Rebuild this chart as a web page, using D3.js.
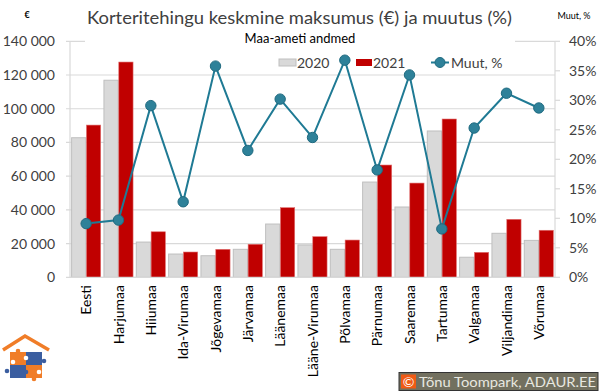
<!DOCTYPE html>
<html><head><meta charset="utf-8">
<script src="https://cdn.jsdelivr.net/npm/d3@7"></script>
<style>body{margin:0;background:#fff}svg{display:block}text{font-family:Lato,"Open Sans",sans-serif}</style>
</head><body><svg id="c" width="600" height="392"></svg>
<script>
const categories = ["Eesti","Harjumaa","Hiiumaa","Ida-Virumaa","Jõgevamaa","Järvamaa","Läänemaa","Lääne-Virumaa","Põlvamaa","Pärnumaa","Saaremaa","Tartumaa","Valgamaa","Viljandimaa","Võrumaa"];
const values2020 = [82800,116900,20900,13800,12800,16600,31600,19200,16600,56500,41700,86800,11900,26100,21900];
const values2021 = [90300,127700,27000,15000,16600,19600,41300,24100,22100,66600,55900,93900,14800,34400,27900];
const muut = [9.1,9.7,29.1,12.8,35.8,21.5,30.2,23.7,36.8,18.2,34.3,8.2,25.3,31.2,28.7];
const leftTicks = [0,20000,40000,60000,80000,100000,120000,140000];
const rightTicks = [0,5,10,15,20,25,30,35,40];
const seriesNames = ["2020","2021","Muut, %"];

const svg = d3.select("#c");
const L=70, R=555, T=41.3, B=277.3;
const x = d3.scaleBand().domain(categories).range([L,R]).paddingInner(0.1).paddingOuter(0.05);
const xs = d3.scaleBand().domain([0,1]).range([0,x.bandwidth()]).paddingInner(0.04);
const yL = d3.scaleLinear().domain([0,140000]).range([B,T]);
const yR = d3.scaleLinear().domain([0,40]).range([B,T]);
const fmt = d => d3.format(",")(d).replace(/,/g," ");

// gridlines
svg.append("g").selectAll("line").data(leftTicks).join("line")
  .attr("x1",L-4).attr("x2",R).attr("y1",d=>yL(d)).attr("y2",d=>yL(d))
  .attr("stroke","#d9d9d9").attr("stroke-width",1.2);
// left axis labels
svg.append("g").selectAll("text").data(leftTicks).join("text")
  .attr("x",55).attr("y",d=>yL(d)).attr("dy","0.36em").attr("text-anchor","end")
  .attr("font-size",14).attr("fill","#404040").text(fmt);
// right axis
svg.append("line").attr("x1",R).attr("x2",R).attr("y1",T).attr("y2",B).attr("stroke","#d9d9d9").attr("stroke-width",1.2);
svg.append("g").selectAll("line").data(rightTicks).join("line")
  .attr("x1",R).attr("x2",R+5).attr("y1",d=>yR(d)).attr("y2",d=>yR(d)).attr("stroke","#d9d9d9").attr("stroke-width",1.2);
svg.append("g").selectAll("text").data(rightTicks).join("text")
  .attr("x",569).attr("y",d=>yR(d)).attr("dy","0.36em")
  .attr("font-size",14).attr("fill","#404040").text(d=>d+"%");
svg.append("line").attr("x1",L).attr("x2",L).attr("y1",T).attr("y2",B).attr("stroke","#d9d9d9").attr("stroke-width",1.2);

// bars
const bars = svg.append("g");
bars.selectAll(".b20").data(values2020).join("rect")
  .attr("x",(d,i)=>x(categories[i])+xs(0)).attr("width",xs.bandwidth())
  .attr("y",d=>yL(d)).attr("height",d=>B-yL(d))
  .attr("fill","#d9d9d9").attr("stroke","#bfbfbf").attr("stroke-width",1);
bars.selectAll(".b21").data(values2021).join("rect")
  .attr("x",(d,i)=>x(categories[i])+xs(1)).attr("width",xs.bandwidth())
  .attr("y",d=>yL(d)).attr("height",d=>B-yL(d))
  .attr("fill","#c00000").attr("stroke","#e07070").attr("stroke-width",0.6);
svg.append("line").attr("x1",L).attr("x2",R).attr("y1",B).attr("y2",B).attr("stroke","#d9d9d9").attr("stroke-width",1.2);

// title box
svg.append("rect").attr("x",85).attr("y",28).attr("width",430).attr("height",20).attr("fill","#fff");
svg.append("text").attr("x",87).attr("y",24).attr("font-size",18)
  .attr("textLength",425).attr("lengthAdjust","spacingAndGlyphs")
  .attr("fill","#404040").text("Korteritehingu keskmine maksumus (€) ja muutus (%)");
svg.append("text").attr("x",300).attr("y",43).attr("text-anchor","middle").attr("font-size",13)
  .attr("fill","#000").text("Maa-ameti andmed");
svg.append("text").attr("x",27).attr("y",18).attr("text-anchor","middle").attr("font-size",9).attr("font-weight","bold").attr("fill","#000").text("€");
svg.append("text").attr("x",574).attr("y",19).attr("text-anchor","middle").attr("font-size",9).attr("fill","#000").text("Muut, %");

// line
const line = d3.line().x((d,i)=>x(categories[i])+x.bandwidth()/2).y(d=>yR(d));
svg.append("path").datum(muut).attr("d",line).attr("fill","none").attr("stroke","#1f7a94").attr("stroke-width",2);
svg.append("g").selectAll("circle").data(muut).join("circle")
  .attr("cx",(d,i)=>x(categories[i])+x.bandwidth()/2).attr("cy",d=>yR(d)).attr("r",5.2)
  .attr("fill","#2e8199").attr("stroke","#1f6a80").attr("stroke-width",1);

// legend
const lg = svg.append("g").attr("font-size",14).attr("fill","#404040");
lg.append("rect").attr("x",279).attr("y",59).attr("width",17).attr("height",7).attr("fill","#d9d9d9").attr("stroke","#bfbfbf");
lg.append("text").attr("x",297).attr("y",67.5).text(seriesNames[0]);
lg.append("rect").attr("x",356).attr("y",59).attr("width",16).attr("height",7).attr("fill","#c00000");
lg.append("text").attr("x",373).attr("y",67.5).text(seriesNames[1]);
lg.append("line").attr("x1",431).attr("x2",449).attr("y1",62.5).attr("y2",62.5).attr("stroke","#1f7a94").attr("stroke-width",2);
lg.append("circle").attr("cx",440).attr("cy",62.5).attr("r",5).attr("fill","#2e8199").attr("stroke","#1f6a80");
lg.append("text").attr("x",451).attr("y",67.5).text(seriesNames[2]);

// category labels
svg.append("g").selectAll("text").data(categories).join("text")
  .attr("transform",d=>`translate(${x(d)+x.bandwidth()/2},285) rotate(-90)`)
  .attr("dy","0.36em").attr("text-anchor","end").attr("font-size",14).attr("fill","#000").text(d=>d);

// logo
const lo = svg.append("g");
lo.append("path").attr("d","M3,350 L25,336 L49,350").attr("fill","none").attr("stroke","#f07d28").attr("stroke-width",3.5);
lo.append("rect").attr("x",10).attr("y",352).attr("width",16).attr("height",13).attr("fill","#f07d28");
lo.append("rect").attr("x",26).attr("y",352).attr("width",16).attr("height",13).attr("fill","#3b5ea0");
lo.append("rect").attr("x",10).attr("y",365).attr("width",16).attr("height",13).attr("fill","#3b5ea0");
lo.append("rect").attr("x",26).attr("y",365).attr("width",16).attr("height",13).attr("fill","#f07d28");
[[18,351,"#f07d28"],[44,361,"#3b5ea0"],[7,371,"#3b5ea0"],[34,379,"#f07d28"],[26,358,"#fff"],[13,362,"#fff"],[39,372,"#fff"],[26,372,"#3b5ea0"]]
  .forEach(([cx,cy,c])=>lo.append("circle").attr("cx",cx).attr("cy",cy).attr("r",2.3).attr("fill",c));

// copyright
svg.append("rect").attr("x",399).attr("y",372.5).attr("width",199).attr("height",18).attr("fill","#72705f").attr("stroke","#333").attr("stroke-width",1);
svg.append("rect").attr("x",401).attr("y",374.5).attr("width",15).attr("height",14).attr("fill","#f05a14");
svg.append("text").attr("x",408.5).attr("y",386.5).attr("text-anchor","middle").attr("font-size",14).attr("font-family","DejaVu Sans").attr("fill","#fff").text("©");
svg.append("text").attr("x",419).attr("y",386.5).attr("font-size",13.5).attr("font-family","DejaVu Sans").attr("fill","#e8e8e0")
  .attr("textLength",177).attr("lengthAdjust","spacingAndGlyphs").text("Tõnu Toompark, ADAUR.EE");
</script></body></html>
